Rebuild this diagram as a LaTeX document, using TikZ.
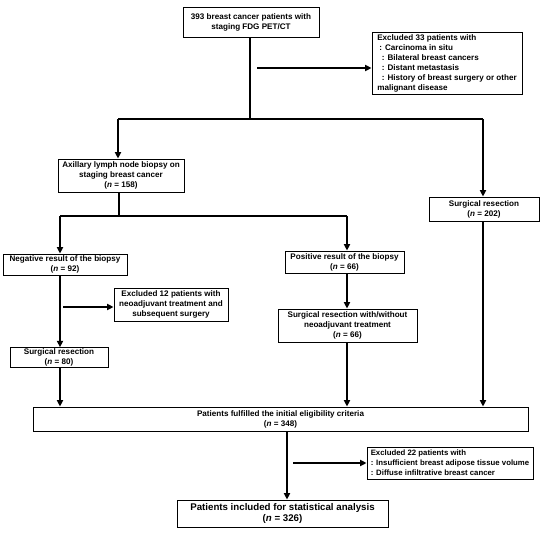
\documentclass[tikz,border=0pt]{standalone}
\usepackage{fontspec}
\setmainfont{Liberation Sans}
\usetikzlibrary{arrows.meta}
\begin{document}
\begin{tikzpicture}[x=1pt,y=-1pt,
  box/.style={draw,line width=0.8pt,inner sep=1pt,align=center,
    font=\fontsize{8.1}{10}\selectfont\bfseries},
  lbox/.style={box,align=left},
  conn/.style={line width=1.7pt},
  arr/.style={conn,-{Triangle[length=6.5pt,width=6pt]}}]
\useasboundingbox (0,0) rectangle (550,533);
% boxes
\node[box,minimum width=136pt,minimum height=30pt] (top) at (251,22)
  {393 breast cancer patients with\\staging FDG PET/CT};
\node[lbox,minimum width=150pt,minimum height=62pt] (ex33) at (447,63)
  {Excluded 33 patients with\\
   \hspace*{2pt}: Carcinoma in situ\\
   \hspace*{4.5pt}: Bilateral breast cancers\\
   \hspace*{4.5pt}: Distant metastasis\\
   \hspace*{4.5pt}: History of breast surgery or other\\
   malignant disease};
\node[box,minimum width=126pt,minimum height=33pt] (axil) at (121,175.5)
  {Axillary lymph node biopsy on\\staging breast cancer\\(\textit{n} = 158)};
\node[box,minimum width=110pt,minimum height=24pt] (s202) at (484,209)
  {Surgical resection\\(\textit{n} = 202)};
\node[box,minimum width=124pt,minimum height=21pt] (neg) at (65,264.5)
  {Negative result of the biopsy\\(\textit{n} = 92)};
\node[box,minimum width=114pt,minimum height=33pt] (ex12) at (171,304.5)
  {Excluded 12 patients with\\neoadjuvant treatment and\\subsequent surgery};
\node[box,minimum width=98pt,minimum height=19pt] (s80) at (59,357.5)
  {Surgical resection\\(\textit{n} = 80)};
\node[box,minimum width=119pt,minimum height=22pt] (pos) at (344.5,262)
  {Positive result of the biopsy\\(\textit{n} = 66)};
\node[box,minimum width=139pt,minimum height=33pt] (sww) at (347.5,325.5)
  {Surgical resection with/without\\neoadjuvant treatment\\(\textit{n} = 66)};
\node[box,minimum width=495pt,minimum height=24pt] (elig) at (280.5,419)
  {Patients fulfilled the initial eligibility criteria\\(\textit{n} = 348)};
\node[lbox,minimum width=166pt,minimum height=32pt,
  font=\fontsize{7.8}{10}\selectfont\bfseries] (ex22) at (450,463)
  {Excluded 22 patients with\\
   : Insufficient breast adipose tissue volume\\
   : Diffuse infiltrative breast cancer};
\node[box,minimum width=211pt,minimum height=27pt,
  font=\fontsize{9.7}{11.5}\selectfont\bfseries] (final) at (282.5,513.5)
  {Patients included for statistical analysis\\(\textit{n} = 326)};
% junctions
\coordinate (jT) at (250,119);
\coordinate (jL) at (118,119);
\coordinate (jR) at (483,119);
\coordinate (e1) at (257,68);
\coordinate (jA) at (119,216);
\coordinate (jAL) at (60,216);
\coordinate (jAR) at (347,216);
\coordinate (e2) at (63,307);
\coordinate (e3) at (293,463);
\coordinate (xE) at (287,0);
% connectors
\draw[conn] (top.south -| jT) -- (jT);
\draw[conn] (jL) -- (jR);
\draw[arr] (jL) -- (axil.north -| jL);
\draw[arr] (jR) -- (s202.north -| jR);
\draw[arr] (e1) -- (e1 -| ex33.west);
\draw[conn] (axil.south -| jA) -- (jA);
\draw[conn] (jAL) -- (jAR);
\draw[arr] (jAL) -- (neg.north -| jAL);
\draw[arr] (jAR) -- (pos.north -| jAR);
\draw[arr] (neg.south -| jAL) -- (s80.north -| jAL);
\draw[arr] (e2) -- (e2 -| ex12.west);
\draw[arr] (pos.south -| jAR) -- (sww.north -| jAR);
\draw[arr] (s80.south -| jAL) -- (elig.north -| jAL);
\draw[arr] (sww.south -| jAR) -- (elig.north -| jAR);
\draw[arr] (s202.south -| jR) -- (elig.north -| jR);
\draw[arr] (elig.south -| xE) -- (final.north -| xE);
\draw[arr] (e3) -- (e3 -| ex22.west);
\end{tikzpicture}
\end{document}
